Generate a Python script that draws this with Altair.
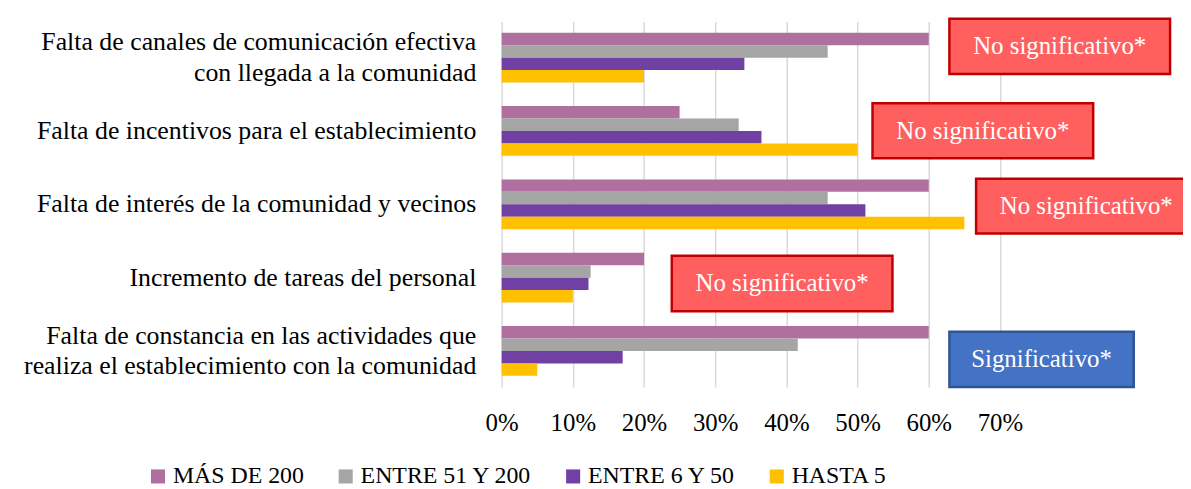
import altair as alt
import pandas as pd

# ---------------- data ----------------
categories = [
    "Falta de canales de comunicación efectiva|con llegada a la comunidad",
    "Falta de incentivos para el establecimiento",
    "Falta de interés de la comunidad y vecinos",
    "Incremento de tareas del personal",
    "Falta de constancia en las actividades que|realiza el establecimiento con la comunidad",
]
series = ["MÁS DE 200", "ENTRE 51 Y 200", "ENTRE 6 Y 50", "HASTA 5"]
mas_de_200 = [0.60, 0.25, 0.60, 0.20, 0.60]
entre_51_200 = [0.458, 0.333, 0.458, 0.125, 0.416]
entre_6_50 = [0.341, 0.365, 0.511, 0.122, 0.170]
hasta_5 = [0.20, 0.50, 0.65, 0.10, 0.05]
series_colors = ["#B0709F", "#A5A5A5", "#7040A2", "#FFC000"]
tick_values = [0, 0.1, 0.2, 0.3, 0.4, 0.5, 0.6, 0.7]

# annotation boxes (significance)
box_labels = ["No significativo*", "No significativo*", "No significativo*",
              "No significativo*", "Significativo*"]
box_x = [0.629, 0.521, 0.6665, 0.239, 0.629]
box_x2 = [0.939, 0.831, 0.976, 0.549, 0.888]
box_y = [-2.7, 82.3, 158.3, 235.7, 312.4]
box_y2 = [52.7, 137.7, 213.3, 291.7, 368.0]
box_fill = ["#FF5F5F", "#FF5F5F", "#FF5F5F", "#FF5F5F", "#4472C4"]
box_stroke = ["#C00000", "#C00000", "#C00000", "#C00000", "#2F5597"]

# ---------------- tables ----------------
values_by_series = [mas_de_200, entre_51_200, entre_6_50, hasta_5]
rows = []
for s, vals in zip(series, values_by_series):
    for c, v in zip(categories, vals):
        rows.append({"cat": c, "series": s, "value": v})
df = pd.DataFrame(rows)

boxes = pd.DataFrame({
    "label": box_labels,
    "x": box_x, "x2": box_x2,
    "y": box_y, "y2": box_y2,
    "cx": [(a + b) / 2 for a, b in zip(box_x, box_x2)],
    "cy": [(a + b) / 2 for a, b in zip(box_y, box_y2)],
    "fill": box_fill, "stroke": box_stroke,
})

FONT = "'Liberation Serif', 'Times New Roman', 'DejaVu Serif', serif"
PAD_L = 497
W, H = 1183 - PAD_L, 368
XMAX = W / 716.7
LINE_H = 31

xscale = alt.Scale(domain=[0, XMAX], nice=False, zero=True)

bars = alt.Chart(df).mark_bar().encode(
    x=alt.X("value:Q", scale=xscale,
            axis=alt.Axis(values=tick_values, format=".0%", title=None,
                          labelFont=FONT, labelFontSize=25, labelColor="#000000",
                          labelPadding=24, labelFlush=False, labelOverlap=False,
                          ticks=False, domain=False, grid=True,
                          gridColor="#D9D9D9", gridWidth=1.5)),
    y=alt.Y("cat:N", sort=categories,
            scale=alt.Scale(paddingInner=0.322, paddingOuter=0.153),
            axis=alt.Axis(title=None, labelExpr="split(datum.label, '|')",
                          labelFont=FONT, labelFontSize=26, labelColor="#000000",
                          labelLimit=0, labelPadding=26, labelLineHeight=LINE_H,
                          labelOffset={"condition": {"test": "indexof(datum.value, '|') >= 0",
                                                     "value": -LINE_H / 2},
                                       "value": 0},
                          ticks=False, domain=False, grid=False)),
    yOffset=alt.YOffset("series:N", sort=series,
                        scale=alt.Scale(paddingInner=0, paddingOuter=0)),
    color=alt.Color("series:N", sort=series,
                    scale=alt.Scale(domain=series, range=series_colors),
                    legend=alt.Legend(title=None, orient="none", direction="horizontal",
                                      columns=4, legendX=-358, legendY=446,
                                      symbolType="square", symbolSize=200,
                                      symbolStrokeWidth=0, labelFont=FONT,
                                      labelFontSize=24, labelColor="#000000",
                                      labelOffset=3, columnPadding=29,
                                      labelLimit=0)),
)

rects = alt.Chart(boxes).mark_rect(strokeWidth=2.5).encode(
    x=alt.X("x:Q", scale=xscale),
    x2="x2:Q",
    y=alt.Y("y:Q", scale=None, axis=None),
    y2="y2:Q",
    fill=alt.Fill("fill:N", scale=None),
    stroke=alt.Stroke("stroke:N", scale=None),
)

texts = alt.Chart(boxes).mark_text(font=FONT, fontSize=25, color="#FFFFFF",
                                   align="center", baseline="middle").encode(
    x=alt.X("cx:Q", scale=xscale),
    y=alt.Y("cy:Q", scale=None, axis=None),
    text="label:N",
)

chart = alt.layer(bars, rects, texts).resolve_scale(y="independent").properties(
    width=W, height=H,
    autosize=alt.AutoSizeParams(type="none"),
    padding={"left": PAD_L, "top": 12, "right": 0, "bottom": 101},
    background="#FFFFFF",
).configure_view(stroke=None)

chart.save("out.html", embed_options={"renderer": "svg", "actions": False})
